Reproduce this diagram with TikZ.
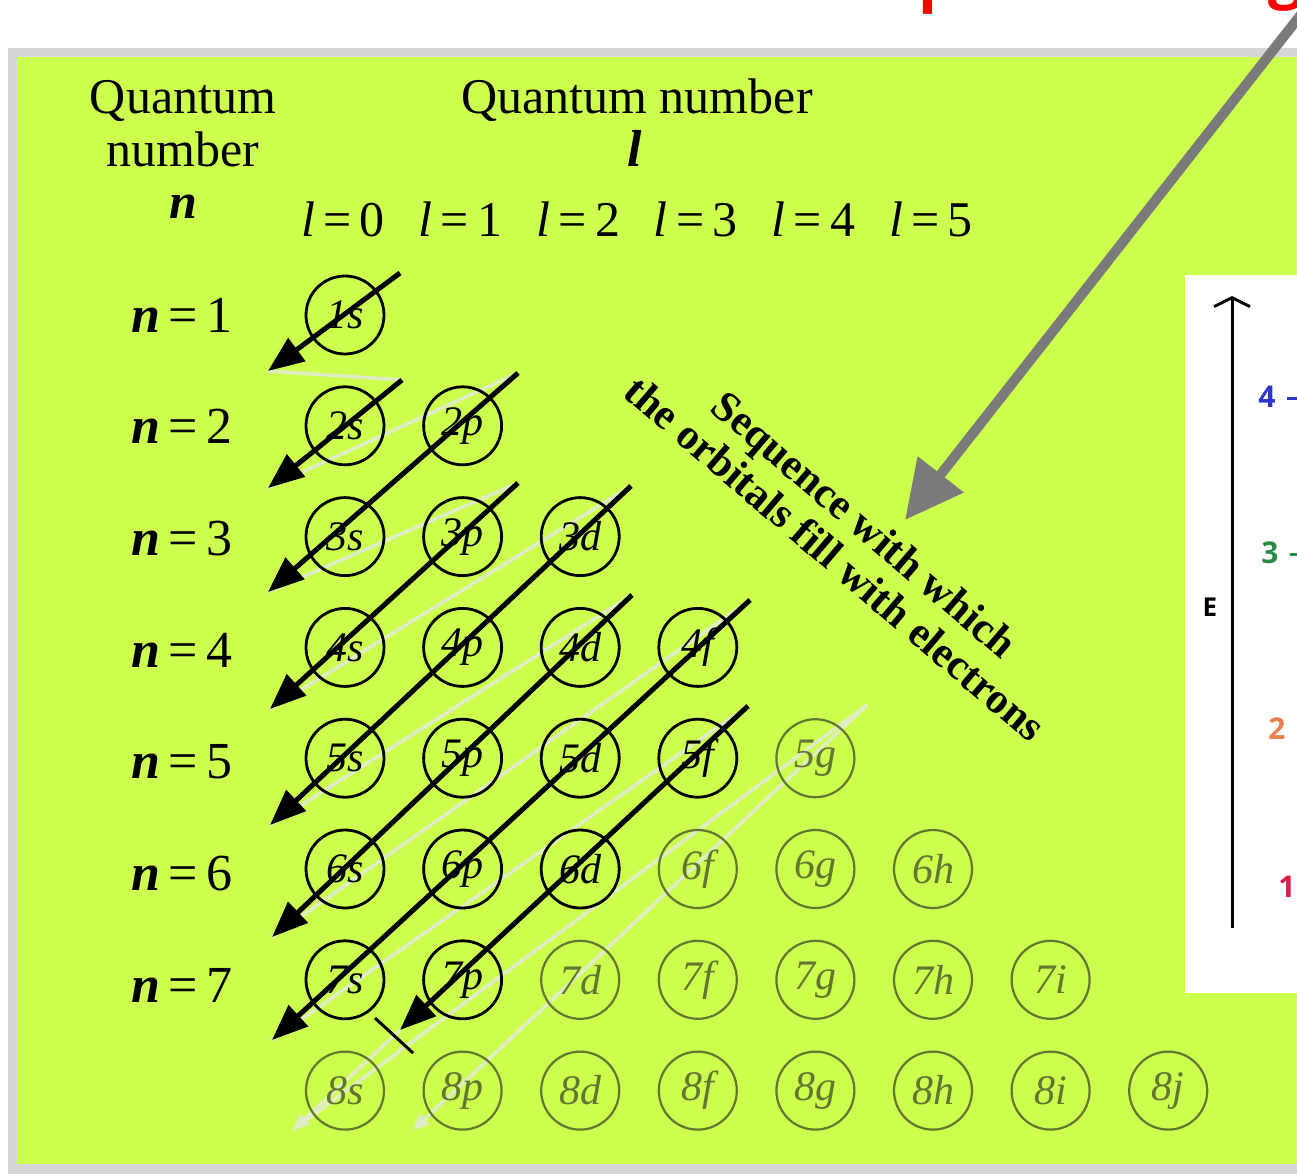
\documentclass[tikz,border=0pt]{standalone}
\usepackage{fontspec}
\setmainfont{Liberation Serif}
\newfontfamily\sansf{Open Sans}
\usetikzlibrary{arrows.meta}
\definecolor{bggreen}{RGB}{205,255,78}
\definecolor{shadowgrey}{RGB}{214,214,214}
\definecolor{faint}{RGB}{98,118,48}
\definecolor{pale}{RGB}{224,236,198}
\definecolor{arrowgrey}{RGB}{122,122,122}
\definecolor{lvlblue}{RGB}{45,55,205}
\definecolor{lvlgreen}{RGB}{40,140,70}
\definecolor{lvlorange}{RGB}{232,128,80}
\definecolor{lvlred}{RGB}{215,30,75}
\begin{document}
\begin{tikzpicture}[x=1pt,y=-1pt,
  orb/.style={circle, draw=black, line width=2.8pt, minimum size=78pt, inner sep=0pt,
              font=\fontsize{42}{42}\selectfont\itshape},
  orbf/.style={orb, draw=faint, text=faint, line width=2.2pt},
  fillarrow/.style={line width=5pt, -{Triangle[length=36pt,width=28pt]}},
  paleline/.style={draw=pale, line width=3.5pt},
  palearrow/.style={paleline, -{Triangle[length=16pt,width=14pt]}},
  head/.style={font=\fontsize{50}{50}\selectfont, anchor=base},
  rowlab/.style={font=\fontsize{52}{52}\selectfont, anchor=base},
  diag/.style={font=\fontsize{43}{45}\selectfont\bfseries, align=center, rotate=-40.5},
  lvl/.style={font=\sansf\bfseries\fontsize{30}{30}\selectfont}
]
\useasboundingbox (0,0) rectangle (1297,1173);
\fill[white] (0,0) rectangle (1297,1173);
% red text cut by top edge
\node[anchor=base west, inner sep=0pt, text=red, font=\sansf\bfseries\fontsize{62}{62}\selectfont] (redp) at (918,-1) {p};
\node[anchor=base west, inner sep=0pt, text=red, font=\sansf\bfseries\fontsize{62}{62}\selectfont] (redg) at (1268,-4) {g};
% board
\fill[shadowgrey] (8,48) rectangle (1310,1180);
\fill[bggreen] (17,57) rectangle (1310,1164);

% headings
\node[head] (qnL1) at (183,113) {Quantum};
\node[head] (qnL2) at (183,166) {number};
\node[head] (qnL3) at (183,218) {\bfseries\itshape n};
\node[head] (qlL1) at (637,113) {Quantum number};
\node[head, font=\fontsize{52}{52}\selectfont] (qlL2) at (635,166) {\bfseries\itshape l};
\foreach \l in {0,...,5}
  \node[head] (lh\l) at ({343+117.6*\l},236) {{\itshape l}\,=\,\l};
\foreach \n in {1,...,7}
  \node[rowlab] (nh\n) at (182,{332+111.7*(\n-1)}) {{\bfseries\itshape n}\,=\,\n};

% pale return lines and continuation arrows
\coordinate (s1) at (400,273);  \coordinate (e1) at (268,371);
\coordinate (s2) at (402,380);  \coordinate (e2) at (268,488);
\coordinate (s3) at (518,373);  \coordinate (e3) at (268,592);
\coordinate (s4) at (518,483);  \coordinate (e4) at (270,709);
\coordinate (s5) at (631,486);  \coordinate (e5) at (270,825);
\coordinate (s6) at (632,595);  \coordinate (e6) at (272,937);
\coordinate (s7) at (750,600);  \coordinate (e7) at (272,1040);
\coordinate (s8) at (748,706);  \coordinate (e8) at (400,1030);
\coordinate (f1e) at (293,1130);
\coordinate (f2s) at (867,705); \coordinate (f2e) at (413,1130);
\coordinate (tk1) at (375,1018); \coordinate (tk2) at (413,1053);

\foreach \a/\b in {1/2,2/3,3/4,4/5,5/6,6/7,7/8}
  \draw[paleline] (e\a) -- (s\b);
\draw[palearrow] (e8) -- (f1e);
\draw[paleline] (f1e) -- (f2s);
\draw[palearrow] (f2s) -- (f2e);

% orbitals
\foreach \n/\l/\t in {1/0/s,2/0/s,2/1/p,3/0/s,3/1/p,3/2/d,4/0/s,4/1/p,4/2/d,4/3/f,
                      5/0/s,5/1/p,5/2/d,5/3/f,6/0/s,6/1/p,6/2/d,7/0/s,7/1/p}
  \node[orb] (o\n\t) at ({345+117.6*\l},{315+110.8*(\n-1)}) {\n\t};
\foreach \n/\l/\t in {5/4/g,6/3/f,6/4/g,6/5/h,7/2/d,7/3/f,7/4/g,7/5/h,7/6/i,
                      8/0/s,8/1/p,8/2/d,8/3/f,8/4/g,8/5/h,8/6/i,8/7/j}
  \node[orbf] (o\n\t) at ({345+117.6*\l},{315+110.8*(\n-1)}) {\n\t};

% filling arrows
\foreach \k in {1,...,8}
  \draw[fillarrow] (s\k) -- (e\k);
\draw[line width=3pt] (tk1) -- (tk2);

% diagonal caption
\node[diag] (cap) at (850,541) {Sequence with which\\the orbitals fill with electrons};

% grey pointer arrow
\coordinate (gs) at (1310,3);
\coordinate (ge) at (905,520);
\draw[arrowgrey, line width=10pt, -{Triangle[length=58pt,width=56pt]}] (gs) -- (ge);

% energy panel
\fill[white] (1185,275) rectangle (1310,993);
\coordinate (ea) at (1232,928);
\coordinate (eb) at (1232,296);
\draw[line width=3pt, -{Straight Barb[length=9pt,width=36pt,line width=3pt]}] (ea) -- (eb);
\node[lvl, text=black, font=\sansf\bfseries\fontsize{26}{26}\selectfont] (eE) at (1210,607) {E};
\node[lvl, text=lvlblue] (l4) at (1267,397) {4};
\node[lvl, text=lvlgreen] (l3) at (1270,553) {3};
\node[lvl, text=lvlorange] (l2) at (1277,729) {2};
\node[lvl, text=lvlred] (l1) at (1287,887) {1};
\coordinate (d4a) at (1287,398); \coordinate (d4b) at (1297,398);
\coordinate (d3a) at (1290,554); \coordinate (d3b) at (1297,554);
\draw[lvlblue, line width=3pt] (d4a) -- (d4b);
\draw[lvlgreen, line width=3pt] (d3a) -- (d3b);
\end{tikzpicture}
\end{document}
